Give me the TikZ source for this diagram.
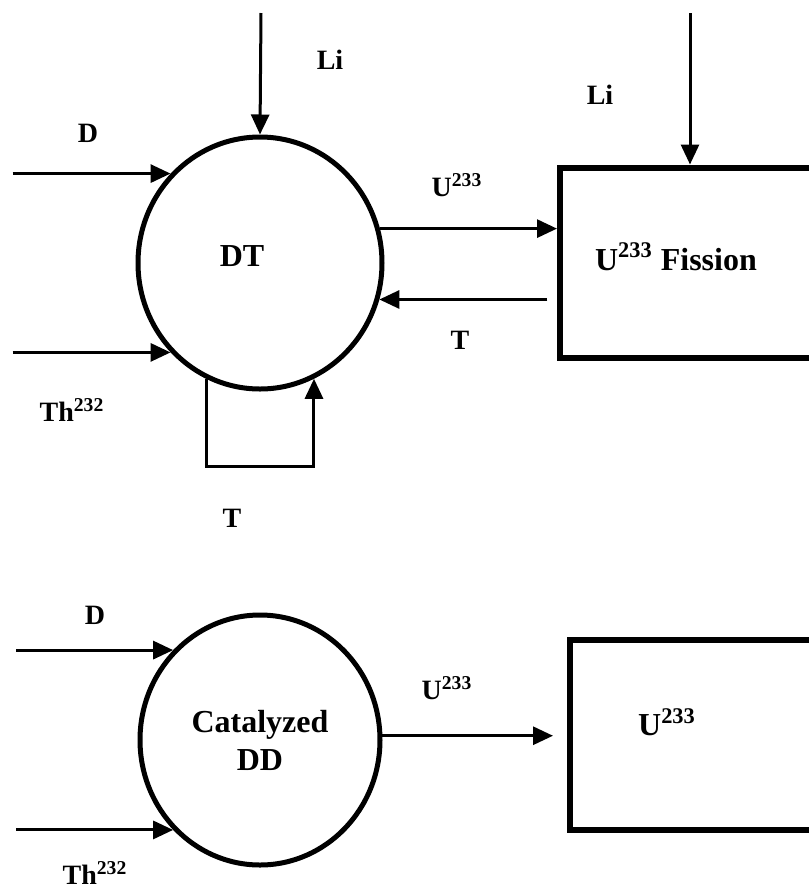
\documentclass[tikz,border=0pt]{standalone}
\usepackage{fontspec}
\setmainfont{Liberation Serif}
\usepackage{tikz}
\usetikzlibrary{positioning, arrows.meta, shapes.geometric}

\begin{document}
\begin{tikzpicture}[x=0.5pt, y=-0.5pt,
        flow/.style={-{Triangle[length=10pt,width=9pt]}, line width=1.5pt},
        reactor/.style={ellipse, draw, line width=2.5pt, inner sep=0pt},
        plant/.style={rectangle, draw, line width=3pt, anchor=west, minimum width=160pt},
        lbl/.style={font=\fontsize{14}{16}\selectfont\bfseries},
        big/.style={font=\fontsize{16}{19}\selectfont\bfseries, align=center}]
    \useasboundingbox (0,0) rectangle (809,890);

    % first cycle
    \node[reactor, minimum width=122pt, minimum height=126pt] (dt) at (260,263) {};
    \node[big] (dtText) at (242,256) {DT};
    \node[plant, minimum height=95pt] (fission) at (557,262.5) {};
    \node[big] (fissionText) at (676,257) {U\textsuperscript{233} Fission};

    \coordinate (liTop) at (261,13);
    \coordinate (liTopB) at (690,13);
    \coordinate (loopBottom) at (0,466);
    \path (dt.135) ++(-158,0) coordinate (dIn);
    \path (dt.225) ++(-158,0) coordinate (thIn);
    \path (dt.-17) ++(168,0) coordinate (tBack);

    \draw[flow] (liTop) -- (dt.north);
    \draw[flow] (liTopB) -- (liTopB |- fission.north);
    \draw[flow] (dIn) -- (dt.135);
    \draw[flow] (thIn) -- (dt.225);
    \draw[flow] (dt.16) -- (dt.16 -| fission.west);
    \draw[flow] (tBack) -- (dt.-17);
    \draw[flow] (dt.245) -- (dt.245 |- loopBottom) -| (dt.295);

    \node[lbl] (liA) at (330,60) {Li};
    \node[lbl] (liB) at (600,95) {Li};
    \node[lbl] (dA) at (88,133) {D};
    \node[lbl] (uA) at (457,185) {U\textsuperscript{233}};
    \node[lbl] (tA) at (460,340) {T};
    \node[lbl] (thA) at (72,410) {Th\textsuperscript{232}};
    \node[lbl] (tB) at (232,518) {T};

    % second cycle
    \node[reactor, minimum width=120pt, minimum height=125pt] (dd) at (260,740) {};
    \node[big] (ddText) at (260,740) {Catalyzed\\DD};
    \node[plant, minimum height=95pt] (breeder) at (567,735) {};
    \node[big] (breederText) at (667,722) {U\textsuperscript{233}};

    \path (dd.134) ++(-157,0) coordinate (dInB);
    \path (dd.226) ++(-157,0) coordinate (thInB);

    \draw[flow] (dInB) -- (dd.134);
    \draw[flow] (thInB) -- (dd.226);
    \draw[flow, shorten >=7pt] (dd.2) -- (dd.2 -| breeder.west);

    \node[lbl] (dB) at (95,615) {D};
    \node[lbl] (uB) at (447,688) {U\textsuperscript{233}};
    \node[lbl] (thB) at (95,873) {Th\textsuperscript{232}};
\end{tikzpicture}
\end{document}
